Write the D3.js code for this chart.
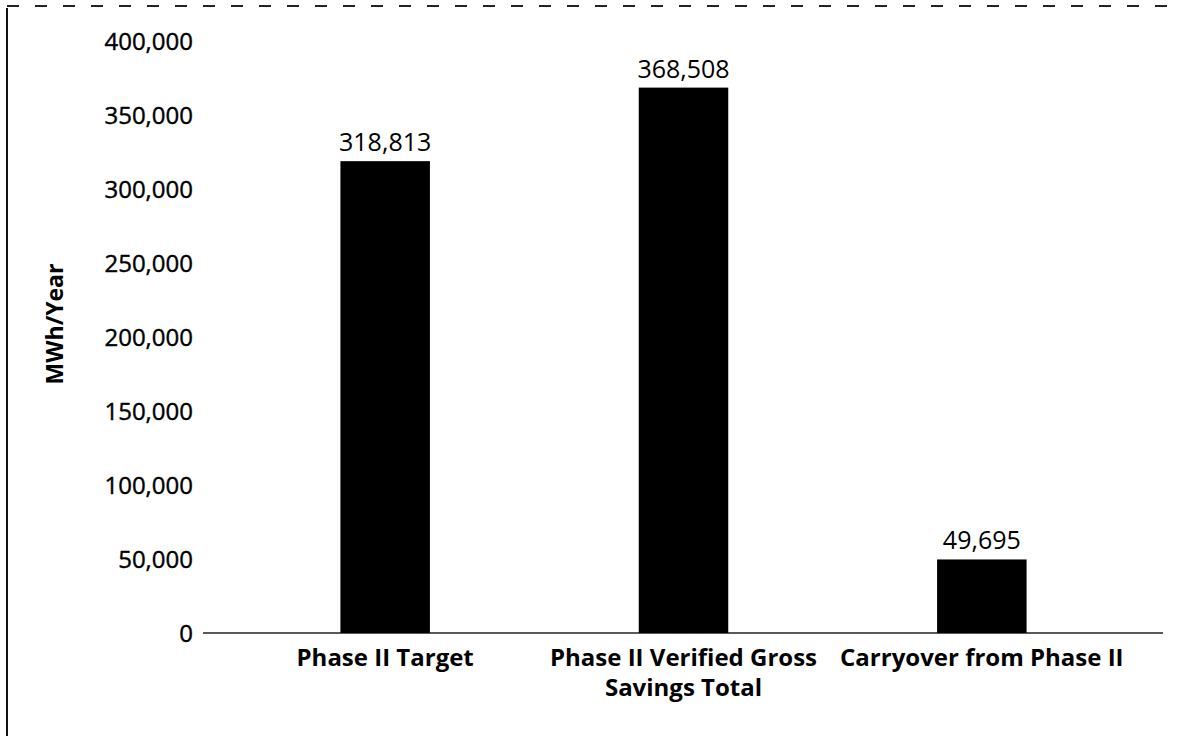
<!DOCTYPE html>
<html>
<head>
<meta charset="utf-8">
<style>
  body { margin: 0; background: #fff; }
  svg { display: block; font-family: "Open Sans", sans-serif; }
  .tick text { fill: #000; }
</style>
<title>Phase II savings</title>
</head>
<body>
<svg id="graph"></svg>
<script src="https://cdn.jsdelivr.net/npm/d3@7"></script>
<script>
// data
var categories = ['Phase II Target', 'Phase II Verified Gross Savings Total', 'Carryover from Phase II'];
var categoryLines = [['Phase II Target'], ['Phase II Verified Gross', 'Savings Total'], ['Carryover from Phase II']];
var values = [318813, 368508, 49695];
var yTicks = [0, 50000, 100000, 150000, 200000, 250000, 300000, 350000, 400000];
var yTitle = 'MWh/Year';

var W = 1191, H = 736;
var svg = d3.select('#graph').attr('width', W).attr('height', H);

// frame (scanned page edge)
svg.append('line').attr('x1', 7).attr('x2', 7).attr('y1', 8).attr('y2', H)
  .attr('stroke', '#111').attr('stroke-width', 2);
svg.append('line').attr('x1', 7).attr('x2', 1183).attr('y1', 6).attr('y2', 6)
  .attr('stroke', '#222').attr('stroke-width', 2).attr('stroke-dasharray', '12,16');

var y = d3.scaleLinear().domain([0, 400000]).range([633, 41]);
var x = d3.scalePoint().domain(categories).range([236, 1131]).padding(0.5);
var barW = x.step() * 0.3;

// y axis labels (no line)
var yAxis = svg.append('g')
  .attr('transform', 'translate(199,0)')
  .call(d3.axisLeft(y).tickValues(yTicks).tickSize(0).tickPadding(6).tickFormat(d3.format(',')));
yAxis.attr('font-family', null).attr('font-size', 24);
yAxis.select('.domain').remove();
yAxis.selectAll('text').attr('dy', '0.36em').attr('stroke', '#000').attr('stroke-width', 0.4);

// category axis line
svg.append('line').attr('x1', 203).attr('x2', 1163).attr('y1', y(0)).attr('y2', y(0))
  .attr('stroke', '#222').attr('stroke-width', 1.5);

// bars
svg.selectAll('.bar').data(values).enter().append('rect')
  .attr('class', 'bar')
  .attr('x', function (d, i) { return x(categories[i]) - barW / 2; })
  .attr('y', function (d) { return y(d); })
  .attr('width', barW)
  .attr('height', function (d) { return y(0) - y(d); })
  .attr('fill', '#000');

// value labels
svg.selectAll('.val').data(values).enter().append('text')
  .attr('class', 'val')
  .attr('x', function (d, i) { return x(categories[i]); })
  .attr('y', function (d) { return y(d) - 10; })
  .attr('text-anchor', 'middle')
  .attr('font-size', 25)
  .text(d3.format(','));

// category labels
categories.forEach(function (c, i) {
  var t = svg.append('text')
    .attr('x', x(c)).attr('y', 666)
    .attr('text-anchor', 'middle')
    .attr('font-size', 24).attr('font-weight', 'bold');
  categoryLines[i].forEach(function (line, k) {
    t.append('tspan').attr('x', x(c)).attr('dy', k === 0 ? 0 : 30).text(line);
  });
});

// y title
svg.append('text')
  .attr('transform', 'translate(63,324) rotate(-90)')
  .attr('text-anchor', 'middle')
  .attr('font-size', 23).attr('font-weight', 'bold')
  .text(yTitle);
</script>
</body>
</html>
